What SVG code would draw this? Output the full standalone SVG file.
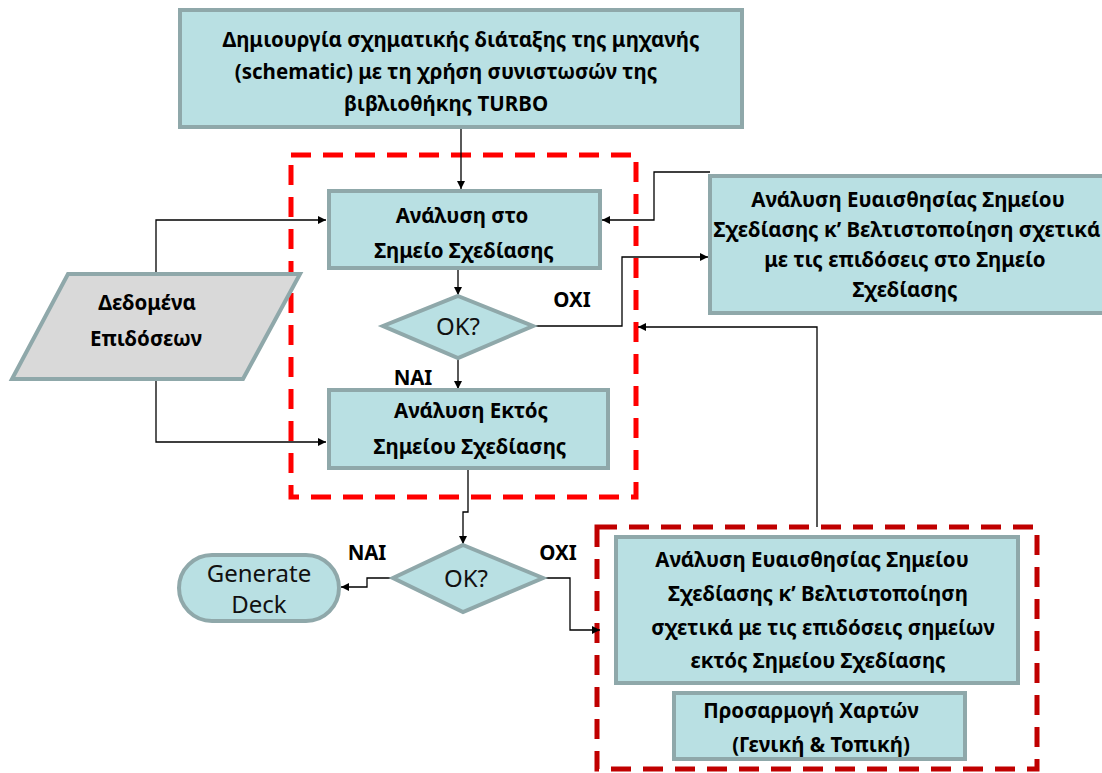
<svg xmlns="http://www.w3.org/2000/svg" width="1102" height="773" viewBox="0 0 1102 773">
<defs>
<marker id="ah" viewBox="0 0 10 10" refX="10" refY="5" markerWidth="8" markerHeight="8" markerUnits="userSpaceOnUse" orient="auto">
<path d="M0,0 L10,5 L0,10 Z" fill="#000"/>
</marker>
<style>
.box{fill:#b9e0e3;stroke:#8fa8aa;stroke-width:4}
.data{fill:#d9d9d9;stroke:#8fa8aa;stroke-width:4}
.t{font-family:"Noto Sans","Open Sans",sans-serif;font-weight:bold;font-size:20.5px;fill:#000;text-anchor:middle}
.n{font-family:"Noto Sans","Open Sans",sans-serif;font-size:24px;fill:#111;text-anchor:middle}
.lbl{font-family:"Noto Sans","Open Sans",sans-serif;font-weight:bold;font-size:20.5px;fill:#000;text-anchor:middle}
.c{fill:none;stroke:#000;stroke-width:1.3;marker-end:url(#ah)}
.rd1{fill:none;stroke:#ff0000;stroke-width:5;stroke-dasharray:20 12}
.rd2{fill:none;stroke:#c00000;stroke-width:5;stroke-dasharray:20 12}
</style>
</defs>
<rect width="1102" height="773" fill="#fff"/>

<g id="group1"><rect class="rd1" x="291" y="155" width="345" height="342"/></g>
<g id="group2"><rect class="rd2" x="597" y="527" width="440" height="242"/></g>

<g id="connectors">
<path class="c" d="M461,127 V189"/>
<path class="c" d="M156,274 V220 H326"/>
<path class="c" d="M156,379 V442 H326"/>
<path class="c" d="M710,172 H654 V220 H602"/>
<path class="c" d="M458,268 V295"/>
<path class="c" d="M533,326 H622 V257 H708"/>
<path class="c" d="M817,527 V327 H638"/>
<path class="c" d="M458,358 V389"/>
<path class="c" d="M468,468 V512 H463 V544"/>
<path class="c" d="M393,578 H367 V587 H341"/>
<path class="c" d="M543,578 H570 V630 H600"/>
</g>

<g id="n_top">
<rect class="box" x="180" y="10" width="562" height="117"/>
<text class="t" x="461" y="47">Δημιουργία σχηματικής διάταξης της μηχανής</text>
<text class="t" x="446" y="79">(schematic) με τη χρήση συνιστωσών της</text>
<text class="t" x="446" y="111">βιβλιοθήκης TURBO</text>
</g>

<g id="n_design">
<rect class="box" x="329" y="191" width="271" height="77"/>
<text class="t" x="462" y="223">Ανάλυση στο</text>
<text class="t" x="464" y="258">Σημείο Σχεδίασης</text>
</g>

<g id="n_ok1">
<polygon class="box" points="458,296 533,326 458,358 383,326"/>
<text class="n" x="458" y="335">OK?</text>
</g>
<text class="lbl" x="572" y="307">ΟΧΙ</text>
<text class="lbl" x="413" y="385">ΝΑΙ</text>

<g id="n_offdesign">
<rect class="box" x="329" y="390" width="279" height="78"/>
<text class="t" x="471" y="418">Ανάλυση Εκτός</text>
<text class="t" x="470" y="454">Σημείου Σχεδίασης</text>
</g>

<g id="n_data">
<polygon class="data" points="68,274 300,274 243,379 12,379"/>
<text class="t" x="147" y="310">Δεδομένα</text>
<text class="t" x="146" y="346">Επιδόσεων</text>
</g>

<g id="n_sens1">
<rect class="box" x="710" y="176" width="394" height="137"/>
<text class="t" x="908" y="207">Ανάλυση Ευαισθησίας Σημείου</text>
<text class="t" x="907" y="237">Σχεδίασης κ’ Βελτιστοποίηση σχετικά</text>
<text class="t" x="905" y="267">με τις επιδόσεις στο Σημείο</text>
<text class="t" x="905" y="297">Σχεδίασης</text>
</g>

<g id="n_ok2">
<polygon class="box" points="463,545 543,578 463,612 393,578"/>
<text class="n" x="466" y="587">OK?</text>
</g>
<text class="lbl" x="367" y="560">ΝΑΙ</text>
<text class="lbl" x="558" y="560">ΟΧΙ</text>

<g id="n_deck">
<rect class="box" x="179" y="555" width="160" height="66" rx="33" ry="33"/>
<text class="n" x="259" y="582" font-size="22">Generate</text>
<text class="n" x="259" y="613" font-size="22">Deck</text>
</g>

<g id="n_sens2">
<rect class="box" x="616" y="537" width="402" height="146"/>
<text class="t" x="812" y="567">Ανάλυση Ευαισθησίας Σημείου</text>
<text class="t" x="818" y="601">Σχεδίασης κ’ Βελτιστοποίηση</text>
<text class="t" x="823" y="635">σχετικά με τις επιδόσεις σημείων</text>
<text class="t" x="818" y="668">εκτός Σημείου Σχεδίασης</text>
</g>

<g id="n_maps">
<rect class="box" x="674" y="693" width="291" height="66"/>
<text class="t" x="811" y="718">Προσαρμογή Χαρτών</text>
<text class="t" x="821" y="752">(Γενική &amp; Τοπική)</text>
</g>
</svg>
